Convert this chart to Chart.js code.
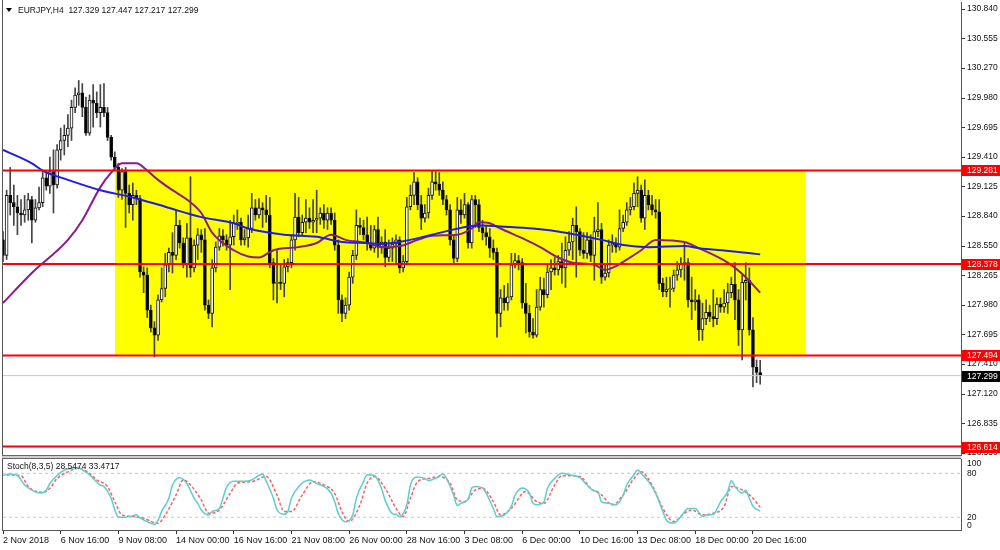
<!DOCTYPE html>
<html>
<head>
<meta charset="utf-8">
<title>EURJPY,H4</title>
<script src="https://cdn.jsdelivr.net/npm/chart.js@4.4.1/dist/chart.umd.min.js"></script>
<style>
  html, body { margin: 0; padding: 0; background: #fff; }
  #wrap { position: relative; width: 1000px; height: 550px; overflow: hidden; background: #fff; }
  canvas { position: absolute; left: 0; }
  #mainChart { top: 0; }
  #stochChart { top: 458px; }
  #edge { position: absolute; left: 2px; top: 0; width: 1px; height: 531px; background: #555; }
  #split { position: absolute; left: 2px; top: 455px; width: 959px; height: 2px; background: #cfcfcf; border-top: 1px solid #666; border-bottom: 1px solid #666; box-sizing: content-box; }
</style>
</head>
<body>
<div id="wrap">
  <canvas id="mainChart" width="1000" height="458"></canvas>
  <canvas id="stochChart" width="1000" height="92"></canvas>
  <div id="edge"></div>
  <div id="split"></div>
</div>
<script>
// H4 candles, bar 0 = 2 Nov 2018 00:00
const barOpen = [
  128.61,128.46,129.04,128.97,128.93,128.87,128.85,128.90,129.00,128.80,
  128.92,128.97,129.21,129.13,129.27,129.14,129.48,129.57,129.62,129.69,
  129.89,130.01,130.03,129.89,129.64,129.96,129.93,129.84,129.89,129.84,
  129.60,129.41,129.31,129.09,129.27,129.06,128.95,129.04,129.01,128.30,
  128.27,127.93,127.76,127.69,128.03,128.14,128.37,128.49,128.46,128.75,
  128.58,128.37,128.63,128.34,128.56,128.66,128.61,127.98,127.90,128.34,
  128.54,128.65,128.61,128.56,128.64,128.77,128.78,128.61,128.63,128.72,
  128.92,128.85,128.92,128.90,128.85,128.39,128.19,128.20,128.19,128.35,
  128.39,128.61,128.83,128.68,128.78,128.82,128.78,128.80,128.82,128.87,
  128.80,128.87,128.80,128.56,128.03,127.90,127.98,128.25,128.46,128.75,
  128.73,128.66,128.58,128.53,128.71,128.54,128.59,128.44,128.53,128.57,
  128.61,128.34,128.40,128.93,129.04,129.17,128.95,128.82,128.87,129.04,
  129.17,129.15,129.09,129.00,128.90,128.61,128.43,128.90,128.85,128.95,
  128.58,129.00,128.95,128.73,128.68,128.64,128.53,128.49,127.90,128.05,
  128.00,128.06,128.37,128.41,128.39,128.00,127.90,127.72,127.69,127.96,
  128.13,128.08,128.30,128.34,128.32,128.40,128.34,128.51,128.59,128.75,
  128.69,128.51,128.48,128.61,128.46,128.69,128.71,128.25,128.29,128.56,
  128.58,128.54,128.72,128.78,128.90,128.93,129.06,129.09,128.82,129.04,
  128.95,128.90,128.88,128.19,128.11,128.13,128.14,128.27,128.32,128.38,
  128.39,128.03,128.01,128.03,127.74,127.85,127.91,127.87,127.85,127.99,
  127.96,128.00,128.10,128.18,128.03,127.74,128.20,128.22,127.74,127.38,
  127.329
];
const barHigh = [
  128.69,129.09,129.31,129.14,129.04,129.00,129.04,129.06,129.03,129.00,
  129.12,129.28,129.27,129.41,129.48,129.53,129.69,129.72,129.82,129.96,
  130.08,130.15,130.12,129.99,130.01,130.11,130.04,130.11,130.12,129.89,
  129.62,129.46,129.35,129.30,129.31,129.14,129.16,129.09,129.04,128.35,
  128.34,127.98,127.82,128.08,128.34,128.48,128.53,128.68,128.90,128.80,
  128.63,128.77,129.22,128.61,128.72,128.71,128.72,128.03,128.42,128.59,
  128.72,128.71,128.66,128.80,128.85,128.90,128.82,128.71,128.85,129.06,
  129.00,129.01,128.97,129.04,129.02,128.43,128.51,128.37,128.42,128.43,
  128.66,129.06,129.02,128.85,129.00,128.92,129.00,129.09,128.92,128.95,
  128.92,128.92,128.87,128.61,128.08,128.05,128.30,128.51,128.90,128.82,
  128.80,128.83,128.75,128.75,128.83,128.64,128.71,128.61,128.63,128.66,
  128.64,128.46,129.02,129.14,129.26,129.21,129.04,128.95,129.11,129.28,
  129.27,129.26,129.17,129.04,128.95,128.66,129.02,129.00,129.06,128.97,
  129.04,129.04,129.00,128.80,128.75,128.72,128.61,128.53,128.13,128.17,
  128.19,128.48,128.48,128.46,128.43,128.19,127.98,127.85,128.13,128.25,
  128.24,128.37,128.42,128.44,128.46,128.58,128.64,128.69,128.82,128.93,
  128.72,128.68,128.68,128.66,128.83,128.97,128.77,128.37,128.61,128.66,
  128.63,128.90,128.85,128.97,129.02,129.16,129.22,129.14,129.19,129.09,
  129.04,129.00,129.00,128.24,128.25,128.25,128.32,128.40,128.44,128.58,
  128.43,128.25,128.13,128.08,128.00,128.03,127.98,128.13,128.05,128.05,
  128.13,128.19,128.25,128.39,128.13,128.27,128.39,128.34,127.86,127.45,
  127.447
];
const barLow = [
  128.40,128.42,128.85,128.75,128.66,128.75,128.78,128.80,128.58,128.78,
  128.90,128.93,129.09,129.06,128.87,129.11,129.38,129.43,129.51,129.57,
  129.84,129.91,129.80,129.62,129.62,129.70,129.79,129.70,129.80,129.57,
  129.38,129.28,129.02,129.00,128.73,128.87,128.80,128.95,128.25,128.10,
  127.86,127.72,127.48,127.64,128.01,128.06,128.30,128.29,128.42,128.53,
  128.34,128.25,128.25,128.30,128.42,128.49,127.93,127.85,127.77,128.30,
  128.51,128.55,128.51,128.13,128.56,128.71,128.56,128.56,128.54,128.68,
  128.80,128.82,128.73,128.78,128.34,128.03,128.00,128.13,128.06,128.30,
  128.34,128.51,128.64,128.65,128.68,128.72,128.68,128.68,128.76,128.72,
  128.71,128.76,128.51,127.90,127.82,127.85,127.93,128.19,128.42,128.66,
  128.61,128.51,128.51,128.49,128.44,128.48,128.35,128.40,128.40,128.37,
  128.29,128.30,128.37,128.90,128.95,128.90,128.71,128.78,128.82,129.00,
  129.09,129.04,128.95,128.85,128.56,128.37,128.40,128.77,128.82,128.53,
  128.53,128.73,128.69,128.61,128.56,128.44,128.42,127.67,127.77,127.93,
  127.93,128.03,128.34,128.32,127.95,127.71,127.67,127.66,127.67,127.93,
  127.96,128.05,128.13,128.27,128.27,128.19,128.15,128.46,128.42,128.25,
  128.46,128.43,128.43,128.40,128.22,128.64,128.19,128.22,128.25,128.49,
  128.49,128.51,128.69,128.75,128.85,128.90,128.93,128.78,128.71,128.90,
  128.85,128.82,128.13,128.06,128.06,127.96,128.11,128.22,128.25,128.22,
  127.96,127.84,127.93,127.64,127.64,127.79,127.82,127.77,127.79,127.91,
  127.91,127.90,128.05,127.84,127.59,127.45,128.03,127.69,127.19,127.23,
  127.217
];
const barClose = [
  128.46,129.04,128.97,128.93,128.87,128.85,128.90,129.00,128.80,128.92,
  128.97,129.21,129.13,129.27,129.14,129.48,129.57,129.62,129.69,129.89,
  130.01,130.03,129.89,129.64,129.96,129.93,129.84,129.89,129.84,129.60,
  129.41,129.31,129.09,129.27,129.06,128.95,129.04,129.01,128.30,128.27,
  127.93,127.76,127.69,128.03,128.14,128.37,128.49,128.46,128.75,128.58,
  128.37,128.63,128.34,128.56,128.66,128.61,127.98,127.90,128.34,128.54,
  128.65,128.61,128.56,128.64,128.77,128.78,128.61,128.63,128.72,128.92,
  128.85,128.92,128.90,128.85,128.39,128.19,128.20,128.19,128.35,128.39,
  128.61,128.83,128.68,128.78,128.82,128.78,128.80,128.82,128.87,128.80,
  128.87,128.80,128.56,128.03,127.90,127.98,128.25,128.46,128.75,128.73,
  128.66,128.58,128.53,128.71,128.54,128.59,128.44,128.53,128.57,128.61,
  128.34,128.40,128.93,129.04,129.17,128.95,128.82,128.87,129.04,129.17,
  129.15,129.09,129.00,128.90,128.61,128.43,128.90,128.85,128.95,128.58,
  129.00,128.95,128.73,128.68,128.64,128.53,128.49,127.90,128.05,128.00,
  128.06,128.37,128.41,128.39,128.00,127.90,127.72,127.69,127.96,128.13,
  128.08,128.30,128.34,128.32,128.40,128.34,128.51,128.59,128.75,128.69,
  128.51,128.48,128.61,128.46,128.69,128.71,128.25,128.29,128.56,128.58,
  128.54,128.72,128.78,128.90,128.93,129.06,129.09,128.82,129.04,128.95,
  128.90,128.88,128.19,128.11,128.13,128.14,128.27,128.32,128.38,128.39,
  128.03,128.01,128.03,127.74,127.85,127.91,127.87,127.85,127.99,127.96,
  128.00,128.10,128.18,128.03,127.74,128.20,128.22,127.74,127.38,127.33,
  127.299
];

const maBlueIdx = [0,8,11,18,27,36,45,55,64,68,78,87,94,101,105,110,119,129,133,138,147,156,166,172,179,189,193,202,210];
const maBlueVal = [129.48,129.35,129.28,129.19,129.09,129.02,128.93,128.83,128.77,128.72,128.66,128.64,128.59,128.58,128.57,128.59,128.66,128.74,128.75,128.74,128.72,128.68,128.61,128.56,128.54,128.55,128.53,128.50,128.47];
const maPurpleIdx = [0,8,18,22,27,30,33,37,40,43,47,51,55,58,64,68,71,75,82,87,91,95,101,105,110,115,119,126,130,132,135,138,145,149,154,158,164,167,169,173,177,181,189,193,201,206,210];
const maPurpleVal = [128.00,128.29,128.61,128.80,129.12,129.26,129.35,129.35,129.28,129.19,129.09,129.00,128.87,128.68,128.51,128.45,128.44,128.51,128.54,128.58,128.66,128.61,128.58,128.54,128.55,128.61,128.65,128.66,128.72,128.78,128.77,128.72,128.61,128.54,128.44,128.39,128.37,128.32,128.34,128.42,128.51,128.61,128.59,128.53,128.39,128.25,128.10];

// stochastic (8,3,5)
const stochMainIdx = [0,2,4,6,8,10,12,13,15,17,19,21,22,24,25,27,28,30,31,32,34,37,38,40,42,43,44,46,47,49,51,53,54,55,57,58,60,61,62,64,67,69,72,73,75,76,78,79,80,82,85,87,89,91,92,93,95,97,98,100,101,103,105,106,108,109,110,112,113,115,117,118,120,122,123,125,126,127,129,130,131,133,134,136,137,139,141,142,144,146,147,148,150,151,153,155,157,160,162,164,165,166,168,170,172,173,175,176,177,179,181,183,184,186,188,190,192,194,195,197,199,201,202,203,205,206,207,208,210];
const stochMainVal = [77,79,77,64,57,53,57,66,77,84.5,87,88,84.5,78,73,64,62,46,30,20,20,23,19,14,10.5,16,28,46,64,74,66,46,39,30,23,28,32,46,61,69,69,71,79,69,46,30,24,28,46,62,71,66,62,53,41,25,14,23,46,69,78,77,59,43,25,24,21,37,64,75,73,70,73,79,73,50,36,39,44,60,62,60,53,32,21,23,35,50,60,53,39,37,41,59.5,73,80,78,74,64,56,55,41,39,37,50,64,78,84.5,80,69,53,28,16,12,21,32,32,21,23,24,41,55,70,62,53,57,46,35,28.5];
const stochSignalIdx = [1,5,7,11,13,15,18,21,24,26,29,31,33,36,39,43,45,48,50,52,55,57,60,63,65,69,73,76,78,80,83,86,89,92,94,96,99,101,103,106,109,111,113,115,118,121,124,126,128,131,133,136,138,141,145,148,150,153,155,160,163,166,169,172,175,177,180,183,186,189,191,194,197,200,202,205,208,210];
const stochSignalVal = [77.7,76.8,61.8,54,59.5,73,82,86.8,80,71,61.8,41.4,23.2,21,18.6,11.8,23.2,50.5,71,64,43.6,25.5,30,52.7,66.4,68.6,75.5,50.5,27.7,27.7,50.5,68.6,64,52.7,27.7,14.1,36.8,66.4,75.5,59.5,32.3,21,46,68.6,73,75.5,66.4,43.6,41.4,57.3,59.5,41.4,23.2,32.3,55,41.4,39,64,76.8,75.5,59.5,50.5,36.8,50.5,73,82,64,32.3,14.1,25.5,30,23.2,25.5,34.5,61.8,57.3,46,33.5];
const stochLevels = [80, 20];
const stochTicks = [100, 80, 20, 0];

// axes and levels
const timeTickIdx = [0,16,32,48,64,80,96,112,128,144,160,176,192,208];
const timeLabels = ['2 Nov 2018','6 Nov 16:00','9 Nov 08:00','14 Nov 00:00','16 Nov 16:00','21 Nov 08:00','26 Nov 00:00','28 Nov 16:00','3 Dec 08:00','6 Dec 00:00','10 Dec 16:00','13 Dec 08:00','18 Dec 00:00','20 Dec 16:00'];
const priceTicks = [130.840,130.555,130.270,129.980,129.695,129.410,129.125,128.840,128.550,128.265,127.980,127.695,127.410,127.120,126.835,126.550];
const levelPrices = [129.281, 128.378, 127.494, 126.614];
const bidPrice = 127.299;
const boxBars = [31, 222.7];
const boxPrices = [129.281, 127.494];
const xRange = [0, 265.7];
const priceRange = [126.532, 130.908];
const stochRange = [2.6, 99.5];
const titleText = 'EURJPY,H4  127.329 127.447 127.217 127.299';
const stochTitle = 'Stoch(8,3,5) 28.5474 33.4717';

const FONT = '"Liberation Sans", Arial, sans-serif';
Chart.defaults.font.family = FONT;
Chart.defaults.font.size = 8.5;
Chart.defaults.color = '#111';
Chart.defaults.animation = false;

const pts = (idx, vals) => idx.map((x, i) => ({x: x, y: vals[i]}));
const hline = v => [{x: xRange[0], y: v}, {x: xRange[1], y: v}];
const noPad = s => { s.paddingTop = 0; s.paddingBottom = 0; s.paddingLeft = 0; s.paddingRight = 0; };

const mainDecor = {
  id: 'mainDecor',
  afterDraw(chart) {
    const {ctx, chartArea} = chart;
    const y = chart.scales.y;
    ctx.save();
    ctx.font = '8.5px ' + FONT;
    ctx.textBaseline = 'middle';
    const tag = (p, bg) => {
      const py = Math.round(y.getPixelForValue(p));
      ctx.fillStyle = bg;
      ctx.fillRect(chartArea.right + 1, py - 5, 40, 11);
      ctx.fillStyle = '#fff';
      ctx.fillText(p.toFixed(3), chartArea.right + 6, py + 0.5);
    };
    levelPrices.forEach(p => tag(p, '#ff0000'));
    tag(bidPrice, '#000');
    const tx = chartArea.left + 3, ty = chartArea.top + 8;
    ctx.fillStyle = '#000';
    ctx.beginPath();
    ctx.moveTo(tx, ty - 2); ctx.lineTo(tx + 6, ty - 2); ctx.lineTo(tx + 3, ty + 2);
    ctx.closePath(); ctx.fill();
    ctx.fillStyle = '#111';
    ctx.fillText(titleText, tx + 12, ty + 0.5);
    ctx.restore();
  }
};

const stochDecor = {
  id: 'stochDecor',
  afterDraw(chart) {
    const {ctx, chartArea} = chart;
    const y = chart.scales.y;
    ctx.save();
    ctx.font = '8.5px ' + FONT;
    ctx.textBaseline = 'middle';
    ctx.fillStyle = '#111';
    ctx.fillText(stochTitle, chartArea.left + 4, chartArea.top + 8);
    stochTicks.forEach(v => {
      const py = Math.min(Math.max(y.getPixelForValue(v), chartArea.top + 5), chartArea.bottom - 4);
      ctx.fillText(String(v), chartArea.right + 6, py);
    });
    ctx.restore();
  }
};

new Chart(document.getElementById('mainChart'), {
  type: 'bar',
  data: {
    datasets: [
      ...levelPrices.map(p => ({
        type: 'line', data: hline(p), borderColor: '#ff0000', borderWidth: 2,
        pointRadius: 0, order: 0
      })),
      { type: 'line', data: hline(bidPrice), borderColor: '#c8c8c8', borderWidth: 1, pointRadius: 0, order: 1 },
      { type: 'line', data: pts(maBlueIdx, maBlueVal), borderColor: '#1c1cf0', borderWidth: 2,
        pointRadius: 0, cubicInterpolationMode: 'monotone', order: 2 },
      { type: 'line', data: pts(maPurpleIdx, maPurpleVal), borderColor: '#8b1a8b', borderWidth: 2,
        pointRadius: 0, cubicInterpolationMode: 'monotone', order: 3 },
      { data: barOpen.map((o, i) => ({x: i, y: [o, barClose[i]]})),
        backgroundColor: c => (c.raw && c.raw.y[1] >= c.raw.y[0]) ? '#ffffff' : '#000000',
        borderColor: '#111', borderWidth: 1, borderSkipped: false,
        barThickness: 3, grouped: false, order: 4 },
      { data: barLow.map((l, i) => ({x: i, y: [l, barHigh[i]]})),
        backgroundColor: '#444', borderWidth: 0, barThickness: 1, grouped: false, order: 5 },
      { type: 'line', data: [{x: boxBars[0], y: boxPrices[0]}, {x: boxBars[1], y: boxPrices[0]}],
        borderColor: 'rgba(0,0,0,0)', borderWidth: 0, pointRadius: 0,
        fill: {value: boxPrices[1]}, backgroundColor: '#ffff00', order: 6 }
    ]
  },
  options: {
    responsive: false,
    animation: false,
    layout: { padding: { left: 3, top: 2, right: 0, bottom: 3 } },
    plugins: { legend: { display: false }, tooltip: { enabled: false } },
    scales: {
      x: { type: 'linear', min: xRange[0], max: xRange[1], offset: false, display: false },
      y: {
        position: 'right', min: priceRange[0], max: priceRange[1],
        afterBuildTicks: s => { s.ticks = priceTicks.map(v => ({value: v})); },
        afterFit: s => { s.width = 39; noPad(s); },
        ticks: { callback: v => v.toFixed(3), padding: 2, autoSkip: false },
        grid: { drawOnChartArea: false, tickLength: 4, color: '#333' },
        border: { color: '#555' }
      }
    }
  },
  plugins: [mainDecor]
});

new Chart(document.getElementById('stochChart'), {
  type: 'line',
  data: {
    datasets: [
      ...stochLevels.map(v => ({
        data: hline(v), borderColor: '#c8c8c8', borderWidth: 1, borderDash: [3, 3],
        pointRadius: 0, order: 2
      })),
      { data: pts(stochSignalIdx, stochSignalVal), borderColor: '#ff5f5f', borderWidth: 1.5,
        borderDash: [3, 2], pointRadius: 0, cubicInterpolationMode: 'monotone', order: 1 },
      { data: pts(stochMainIdx, stochMainVal), borderColor: '#5ccfcc', borderWidth: 1.5,
        pointRadius: 0, cubicInterpolationMode: 'monotone', order: 0 }
    ]
  },
  options: {
    responsive: false,
    animation: false,
    layout: { padding: { left: 3, top: 1, right: 0, bottom: 0 } },
    plugins: { legend: { display: false }, tooltip: { enabled: false } },
    scales: {
      x: {
        type: 'linear', min: xRange[0], max: xRange[1], offset: false,
        afterBuildTicks: s => { s.ticks = timeTickIdx.map(v => ({value: v})); },
        afterFit: s => { s.height = 20; noPad(s); },
        ticks: { callback: (v, i) => timeLabels[i], align: 'start', autoSkip: false, maxRotation: 0, padding: 1, font: { size: 9 } },
        grid: { drawOnChartArea: false, tickLength: 4, color: '#333' },
        border: { color: '#555' }
      },
      y: {
        position: 'right', min: stochRange[0], max: stochRange[1],
        afterFit: s => { s.width = 39; noPad(s); },
        ticks: { display: false },
        grid: { display: false },
        border: { color: '#555' }
      }
    }
  },
  plugins: [stochDecor]
});
</script>
</body>
</html>
